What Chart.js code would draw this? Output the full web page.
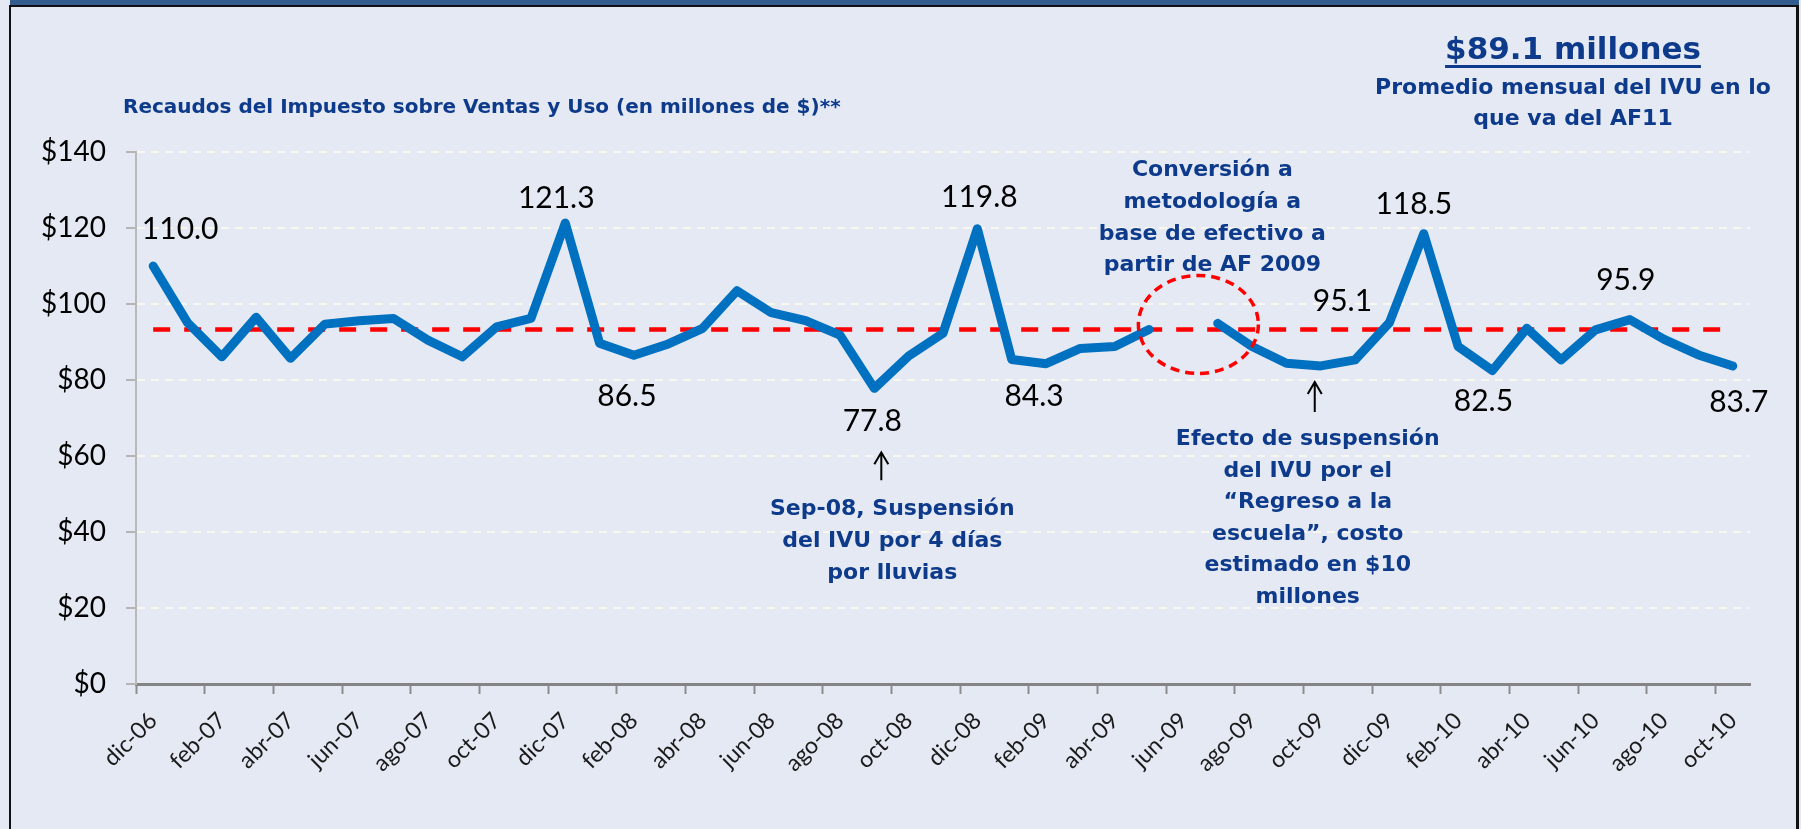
<!DOCTYPE html>
<html lang="es">
<head>
<meta charset="utf-8">
<title>Recaudos del IVU</title>
<script src="https://cdn.jsdelivr.net/npm/chart.js@4.4.0/dist/chart.umd.min.js"></script>
<style>
  html, body { margin: 0; padding: 0; }
  body {
    width: 1801px; height: 829px; overflow: hidden; position: relative;
    background: #e4e9f4; font-family: "DejaVu Sans", sans-serif;
  }
  .topbar { position: absolute; left: 10px; width: 1789px; top: 0; height: 5px; background: #335d8f; border-bottom: 2px solid #111; }
  .edge-left { position: absolute; left: 9px; top: 5px; bottom: 0; width: 2px; background: #111; }
  .edge-right { position: absolute; left: 1796px; top: 5px; bottom: 0; width: 3px; background: #111; }
  #wrap { position: absolute; left: 0; top: 0; width: 1801px; height: 829px; }
  .title {
    position: absolute; left: 123px; top: 94px; white-space: nowrap;
    font: bold 20px/24px "DejaVu Sans", sans-serif; color: #0d3a8a;
  }
  .avg-box { position: absolute; left: 1373px; width: 400px; text-align: center; color: #0d3a8a; }
  .avg-big {
    top: 29px; font: bold 31px/38px "DejaVu Sans", sans-serif;
    text-decoration: underline; text-decoration-thickness: 3px; text-underline-offset: 6px;
  }
  .avg-sub { top: 71px; font: bold 22px/31px "DejaVu Sans", sans-serif; }
</style>
</head>
<body>
<div class="topbar"></div>
<div class="edge-left"></div>
<div class="edge-right"></div>
<div id="wrap"><canvas id="ivuChart"></canvas></div>
<div class="title">Recaudos del Impuesto sobre Ventas y Uso (en millones de $)**</div>
<div class="avg-box avg-big">$89.1 millones</div>
<div class="avg-box avg-sub">Promedio mensual del IVU en lo<br>que va del AF11</div>
<script>
const months = [
  "dic-06", "ene-07", "feb-07", "mar-07", "abr-07", "may-07", "jun-07", "jul-07",
  "ago-07", "sep-07", "oct-07", "nov-07", "dic-07", "ene-08", "feb-08", "mar-08",
  "abr-08", "may-08", "jun-08", "jul-08", "ago-08", "sep-08", "oct-08", "nov-08",
  "dic-08", "ene-09", "feb-09", "mar-09", "abr-09", "may-09", "jun-09", "jul-09",
  "ago-09", "sep-09", "oct-09", "nov-09", "dic-09", "ene-10", "feb-10", "mar-10",
  "abr-10", "may-10", "jun-10", "jul-10", "ago-10", "sep-10", "oct-10"
];

// millones de $, jun-09 sin dato (cambio de metodologia)
const revenue = [
  110.0, 95.1, 86.1, 96.5, 85.7, 94.7, 95.6, 96.2,
  90.5, 86.1, 94.0, 96.2, 121.3, 89.7, 86.5, 89.5,
  93.6, 103.5, 97.7, 95.6, 91.8, 77.8, 86.3, 92.3,
  119.8, 85.4, 84.3, 88.3, 88.8, 93.3, null, 94.9,
  88.8, 84.4, 83.7, 85.3, 95.1, 118.5, 88.8, 82.5,
  93.6, 85.3, 93.2, 95.9, 90.7, 86.6, 83.7
];

const avgValue = 93.3;
const avgSpan = ["dic-06", "oct-10"];

const yTicks = [0, 20, 40, 60, 80, 100, 120, 140];

const labeledMonths = ["dic-06", "dic-07", "feb-08", "sep-08", "dic-08", "feb-09",
                       "dic-09", "ene-10", "mar-10", "jul-10", "oct-10"];

const notes = [
  { at: "jun-09", lines: ["Conversión a", "metodología a", "base de efectivo a", "partir de AF 2009"] },
  { at: "sep-08", lines: ["Sep-08, Suspensión", "del IVU por 4 días", "por lluvias"] },
  { at: "oct-09", lines: ["Efecto de suspensión", "del IVU por el", "“Regreso a la", "escuela”, costo", "estimado en $10", "millones"] }
];
const arrowMonths = ["sep-08", "oct-09"];
const circleMonth = "jun-09";

// placement of the text labels (pixels, relative to the point)
const labelOffsets = [[27, -37], [-9, -25], [-7, 41], [-2, 33], [2, -31], [-12, 33],
                      [-47, -21], [-10, -29], [-9, 31], [-4, -39], [6, 36]];
const noteOffsets = [[29, -153], [18, 127], [-13, 79]];
const arrowOffsets = [[7, 64, 92], [-6, 16, 46]];

const NAVY = "#0d3a8a";
const LINE_BLUE = "#0070c0";

function anchorPixel(chart, month, fallbackValue) {
  const idx = months.indexOf(month);
  const v = revenue[idx] == null ? fallbackValue : revenue[idx];
  return {
    x: chart.scales.x.getPixelForValue(idx),
    y: chart.scales.y.getPixelForValue(v)
  };
}

const notesPlugin = {
  id: "notes",
  afterDatasetsDraw(chart) {
    const ctx = chart.ctx;
    ctx.save();

    // value labels
    ctx.font = "30px Lato";
    ctx.fillStyle = "#000";
    ctx.textAlign = "center";
    ctx.textBaseline = "middle";
    labeledMonths.forEach((m, k) => {
      const p = anchorPixel(chart, m, avgValue);
      const idx = months.indexOf(m);
      ctx.fillText(revenue[idx].toFixed(1), p.x + labelOffsets[k][0], p.y + labelOffsets[k][1]);
    });

    // blue notes
    ctx.font = "bold 22px 'DejaVu Sans'";
    ctx.fillStyle = NAVY;
    ctx.textBaseline = "alphabetic";
    notes.forEach((n, k) => {
      const p = anchorPixel(chart, n.at, avgValue);
      n.lines.forEach((line, j) => {
        ctx.fillText(line, p.x + noteOffsets[k][0], p.y + noteOffsets[k][1] + j * 31.6);
      });
    });

    // arrows
    ctx.strokeStyle = "#000";
    ctx.lineWidth = 2;
    arrowMonths.forEach((m, k) => {
      const p = anchorPixel(chart, m, avgValue);
      const [dx, tip, tail] = arrowOffsets[k];
      const ax = p.x + dx;
      ctx.beginPath();
      ctx.moveTo(ax, p.y + tail);
      ctx.lineTo(ax, p.y + tip);
      ctx.moveTo(ax - 7, p.y + tip + 12);
      ctx.lineTo(ax, p.y + tip);
      ctx.lineTo(ax + 7, p.y + tip + 12);
      ctx.stroke();
    });

    // dashed ring around the gap
    const c = anchorPixel(chart, circleMonth, avgValue);
    ctx.strokeStyle = "#ff0000";
    ctx.lineWidth = 3.5;
    ctx.setLineDash([9, 6]);
    ctx.beginPath();
    ctx.ellipse(c.x + 15, c.y - 5, 60, 49, 0, 0, Math.PI * 2);
    ctx.stroke();

    ctx.restore();
  }
};

document.addEventListener("DOMContentLoaded", () => {
  const canvas = document.getElementById("ivuChart");

  new Chart(canvas.getContext("2d"), {
    type: "line",
    data: {
      labels: months,
      datasets: [
        {
          label: "IVU",
          data: revenue,
          borderColor: LINE_BLUE,
          borderWidth: 9,
          borderJoinStyle: "round",
          borderCapStyle: "round",
          pointRadius: 0,
          tension: 0,
          spanGaps: false,
          order: 1
        },
        {
          label: "Promedio",
          data: avgSpan.map(m => ({ x: m, y: avgValue })),
          borderColor: "#ff0000",
          borderWidth: 4.5,
          borderDash: [17, 14],
          pointRadius: 0,
          order: 2
        }
      ]
    },
    options: {
      responsive: true,
      maintainAspectRatio: false,
      animation: false,
      events: [],
      layout: { padding: { left: 0, top: 152, right: 51, bottom: 0 } },
      plugins: {
        legend: { display: false },
        tooltip: { enabled: false },
        title: { display: false }
      },
      scales: {
        x: {
          type: "category",
          offset: true,
          afterFit: (axis) => { axis.height = 145; },
          grid: {
            offset: true,
            drawOnChartArea: false,
            drawTicks: true,
            tickLength: 10,
            tickWidth: 2,
            tickColor: (c) => (c.index % 2 === 0 ? "#8c8c8c" : "transparent")
          },
          border: { display: true, color: "#858585", width: 3 },
          ticks: {
            autoSkip: false,
            minRotation: 45,
            maxRotation: 45,
            padding: 13,
            color: "#1a1a1a",
            font: { family: "Lato", size: 23 },
            callback: (v, i) => (i % 2 === 0 ? months[i] : "")
          }
        },
        y: {
          min: 0,
          max: 140,
          afterFit: (axis) => { axis.width = 136; },
          afterBuildTicks: (axis) => { axis.ticks = yTicks.map(v => ({ value: v })); },
          grid: {
            color: (c) => (c.tick && c.tick.value === 0 ? "transparent" : "rgba(250,249,238,0.95)"),
            lineWidth: 2,
            tickLength: 10,
            tickWidth: 2,
            tickColor: "#b5b5b5"
          },
          border: { display: true, color: "#b9b9b9", width: 2, dash: [8, 6] },
          ticks: {
            padding: 20,
            color: "#000",
            font: { family: "Lato", size: 28 },
            callback: (v) => "$" + v
          }
        }
      }
    },
    plugins: [notesPlugin]
  });
});
</script>
</body>
</html>
